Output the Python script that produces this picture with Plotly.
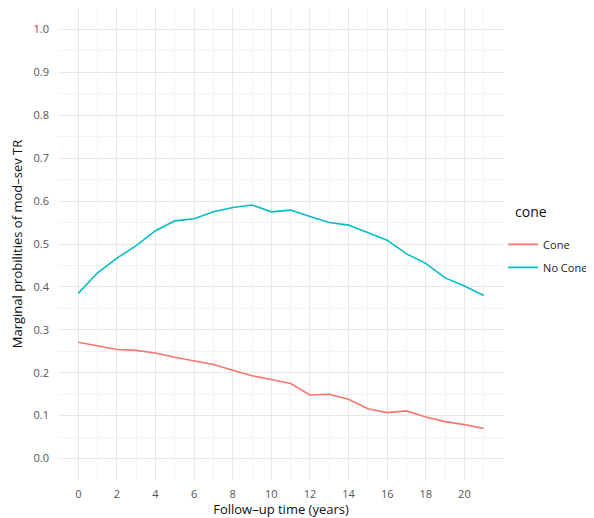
import plotly.graph_objects as go

years = list(range(22))
cone = [0.271, 0.262, 0.254, 0.252, 0.246, 0.236, 0.227, 0.219, 0.206, 0.193, 0.184,
        0.175, 0.148, 0.150, 0.138, 0.116, 0.107, 0.111, 0.097, 0.086, 0.079, 0.070]
no_cone = [0.385, 0.433, 0.467, 0.496, 0.531, 0.554, 0.559, 0.575, 0.585, 0.591, 0.575,
           0.579, 0.564, 0.550, 0.544, 0.527, 0.509, 0.477, 0.455, 0.421, 0.402, 0.380]
x_ticks = list(range(0, 21, 2))
y_ticks = [round(i * 0.1, 1) for i in range(11)]

FONT = "Open Sans"
fig = go.Figure()
fig.add_trace(go.Scatter(x=years, y=cone, mode="lines", name="Cone", legendgroup="a",
                         line=dict(color="#F8766D", width=1.6)))
fig.add_trace(go.Scatter(x=years, y=no_cone, mode="lines", name="No Cone", legendgroup="b",
                         line=dict(color="#00BFC4", width=1.6)))

fig.add_annotation(text="cone", xref="paper", yref="paper", x=1.02, y=0.568,
                   xanchor="left", yanchor="middle", showarrow=False,
                   font=dict(size=14, color="#111111", family=FONT))

fig.update_layout(
    width=586, height=510,
    margin=dict(l=50, r=90, t=0, b=38, autoexpand=False),
    plot_bgcolor="white", paper_bgcolor="white",
    font=dict(family=FONT, color="#222222"),
    legend=dict(x=0.998, xanchor="left", y=0.53, yanchor="top",
                font=dict(size=11, color="#222222"), tracegroupgap=4, itemwidth=30),
    xaxis=dict(range=[-1.05, 22.05], tickvals=x_ticks, ticktext=[str(v) for v in x_ticks],
               showgrid=True, gridcolor="#E8E8E8", gridwidth=1,
               minor=dict(dtick=1, tick0=1, showgrid=True, gridcolor="#F3F3F3", gridwidth=0.6),
               zeroline=False, showline=False, ticks="", automargin=False, ticklabelstandoff=6,
               tickfont=dict(size=11, color="#555555"),
               title=dict(text="Follow\u2013up time (years)", font=dict(size=13, color="#111111"), standoff=2)),
    yaxis=dict(range=[-0.05, 1.05], tickvals=y_ticks, ticktext=[f"{v:.1f}" for v in y_ticks],
               showgrid=True, gridcolor="#E8E8E8", gridwidth=1,
               minor=dict(dtick=0.05, tick0=0.05, showgrid=True, gridcolor="#F3F3F3", gridwidth=0.6),
               zeroline=False, showline=False, ticks="", automargin=False, ticklabelstandoff=8,
               tickfont=dict(size=11, color="#555555"),
               title=dict(text="Marginal probilities of mod\u2013sev TR", font=dict(size=13, color="#111111"), standoff=8)),
)
fig.write_html("out.html")
